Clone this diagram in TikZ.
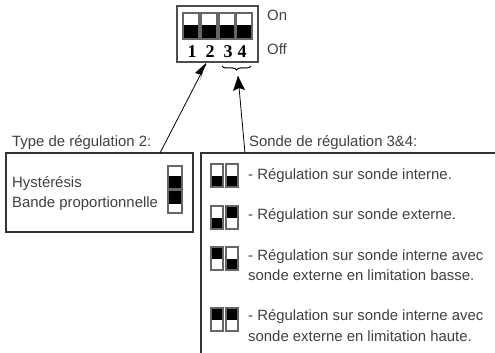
\documentclass[tikz,border=0pt]{standalone}
\usepackage{fontspec}
\setmainfont{Liberation Sans}
\usetikzlibrary{decorations.pathreplacing}

\tikzset{
  label text/.style={anchor=base west, inner sep=0pt, text=black!75, font=\fontsize{14.9}{17}\selectfont},
  frame line/.style={line width=1.1pt, black!80},
  switch line/.style={line width=1.8pt, black!60},
}

\begin{document}
\begin{tikzpicture}[x=1pt, y=-1pt]
  \useasboundingbox (0, 0) rectangle (495, 353);

  % DIP switch block
  \draw[line width=1.6pt, black!70] (177, 6) rectangle (258, 62);
  \foreach \x in {183, 201, 219, 236} {
    \fill[black] (\x, 25) rectangle ++(16, 13);
    \draw[switch line] (\x, 13) rectangle ++(16, 26);
  }
  \foreach \n/\x in {1/192, 2/210, 3/228, 4/242} {
    \node[inner sep=0pt, font=\fontspec{Liberation Serif}\bfseries\fontsize{18}{18}\selectfont] (num\n) at (\x, 52) {\n};
  }
  \node[label text] (on) at (267, 21) {On};
  \node[label text] (off) at (267, 55) {Off};
  \draw[decorate, decoration={brace, mirror, amplitude=4pt}, line width=1pt]
    (222, 66) -- (251, 66) coordinate[midway] (brace);

  % frames
  \node[label text] (type) at (12, 146) {Type de régulation 2:};
  \node[label text] (sonde) at (249, 146) {Sonde de régulation 3\&4:};
  \draw[frame line] (6, 153) rectangle (193, 232);
  \draw[frame line] (495, 153) -- (201, 153) -- (201, 353);

  \coordinate (typefrom) at (160, 153);
  \coordinate (typeto) at (206, 64);
  \coordinate (sondefrom) at (245, 153);
  \coordinate (sondeto) at (238, 76);
  \draw[line width=0.8pt] (typefrom) -- (typeto);
  \draw[line width=0.8pt] (sondefrom) -- (sondeto);
  \fill (206, 63) -- (195, 73) -- (202, 75) -- (200, 80) -- cycle;
  \fill (238, 76) -- (233, 91) -- (239, 88) -- (245, 90) -- cycle;

  % left frame
  \node[label text] (hyst) at (12, 187) {Hystérésis};
  \node[label text] (bande) at (12, 207) {Bande proportionnelle};
  \fill (169, 176) rectangle ++(12, 12);
  \draw[switch line] (168, 166) rectangle ++(14, 23);
  \fill (169, 191) rectangle ++(12, 13);
  \draw[switch line] (168, 190) rectangle ++(14, 23);

  % right frame, up = 0 / down = 1 per pair
  \foreach \y/\a/\b in {164/1/1, 206/1/0, 247/0/1, 308/0/0} {
    \fill (211, \y+1+\a*11) rectangle ++(12, 11);
    \fill (226, \y+1+\b*11) rectangle ++(12, 11);
    \draw[switch line] (211, \y) rectangle ++(12, 23);
    \draw[switch line] (226, \y) rectangle ++(12, 23);
  }
  \node[label text] (int) at (248, 179) {- Régulation sur sonde interne.};
  \node[label text] (ext) at (248, 219) {- Régulation sur sonde externe.};
  \node[label text] (bas1) at (248, 260) {- Régulation sur sonde interne avec};
  \node[label text] (bas2) at (248, 280) {sonde externe en limitation basse.};
  \node[label text] (haut1) at (248, 320) {- Régulation sur sonde interne avec};
  \node[label text] (haut2) at (248, 341) {sonde externe en limitation haute.};
\end{tikzpicture}
\end{document}
